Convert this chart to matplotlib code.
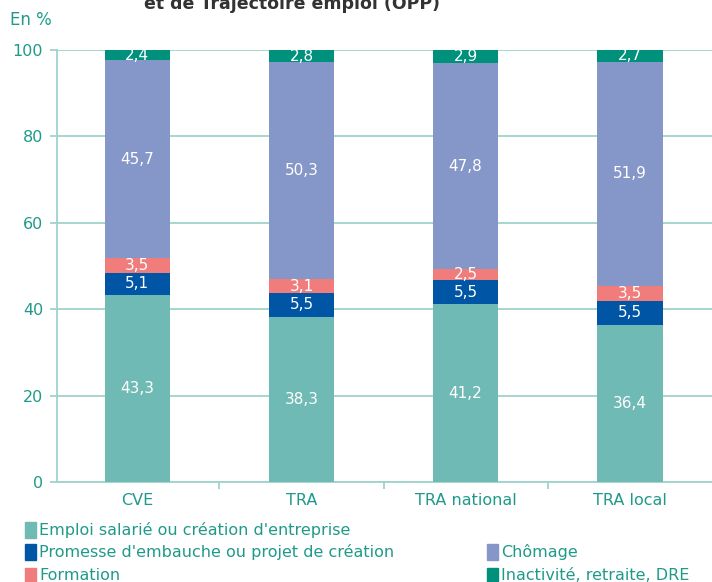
import matplotlib
matplotlib.use("Agg")
import matplotlib.pyplot as plt
from matplotlib.patches import Rectangle
import numpy as np

categories = ["CVE", "TRA", "TRA national", "TRA local"]
series_names = ["Emploi salarié ou création d'entreprise",
                "Promesse d'embauche ou projet de création",
                "Formation", "Chômage", "Inactivité, retraite, DRE"]
emploi = [43.3, 38.3, 41.2, 36.4]
promesse = [5.1, 5.5, 5.5, 5.5]
formation = [3.5, 3.1, 2.5, 3.5]
chomage = [45.7, 50.3, 47.8, 51.9]
inactivite = [2.4, 2.8, 2.9, 2.7]
yticks = [0, 20, 40, 60, 80, 100]

colors = ["#70bab5", "#0055a4", "#f07c7c", "#8596c8", "#00917d"]
teal = "#1f9a8a"
grid_c = "#9fd3cc"

plt.rcParams['font.family'] = ['DejaVu Sans']
fig = plt.figure(figsize=(7.12, 5.82), dpi=100)
ax = fig.add_axes([57/712, 1-482/582, 1-57/712+0.002, 432/582])

x = np.arange(len(categories))
bottom = np.zeros(len(categories))
for vals, col in zip([emploi, promesse, formation, chomage, inactivite], colors):
    vals = np.array(vals)
    ax.bar(x, vals, bottom=bottom, width=0.40, color=col, zorder=3, linewidth=0)
    for xi, b, v in zip(x, bottom, vals):
        ax.text(xi, b + v/2, f"{v:.1f}".replace(".", ","), ha='center', va='center',
                color='white', fontsize=11, zorder=4)
    bottom += vals

ax.set_xlim(-0.49, 3.51)
ax.set_ylim(0, 100)
ax.set_yticks(yticks)
ax.set_yticklabels([str(t) for t in yticks], color=teal, fontsize=11.5)
ax.yaxis.grid(True, color=grid_c, linewidth=1.3, zorder=0)
ax.tick_params(axis='y', length=5, color=grid_c, width=1.3, pad=5)
ax.set_xticks([0.5, 1.5, 2.5])
ax.set_xticklabels([])
ax.tick_params(axis='x', length=5, color=grid_c, width=1.3)
for xi, c in zip(x, categories):
    ax.text(xi, -2.6, c, ha='center', va='top', color=teal, fontsize=11.5)
for s in ['top', 'right']:
    ax.spines[s].set_visible(False)
ax.spines['left'].set_color(grid_c)
ax.spines['left'].set_linewidth(1.3)
ax.spines['bottom'].set_color(grid_c)
ax.spines['bottom'].set_linewidth(1.3)

fig.text(10/712, 1-20/582, "En %", color=teal, fontsize=12, va='center')
fig.text(144/712, 1-9/582, "et de Trajectoire emploi (OPP)", color="#333333",
         fontsize=12.5, fontweight='bold', va='baseline')

def leg(px, py, col, label):
    fig.patches.append(Rectangle((px/712, 1-(py+8)/582), 11/712, 16/582,
                                 transform=fig.transFigure, color=col, figure=fig))
    fig.text((px+14)/712, 1-py/582, label, color=teal, fontsize=11.5, va='center')

leg(25, 530, colors[0], series_names[0])
leg(25, 552, colors[1], series_names[1])
leg(487, 552, colors[3], series_names[3])
leg(25, 576, colors[2], series_names[2])
leg(487, 576, colors[4], series_names[4])

fig.savefig("out.png", dpi=100)
